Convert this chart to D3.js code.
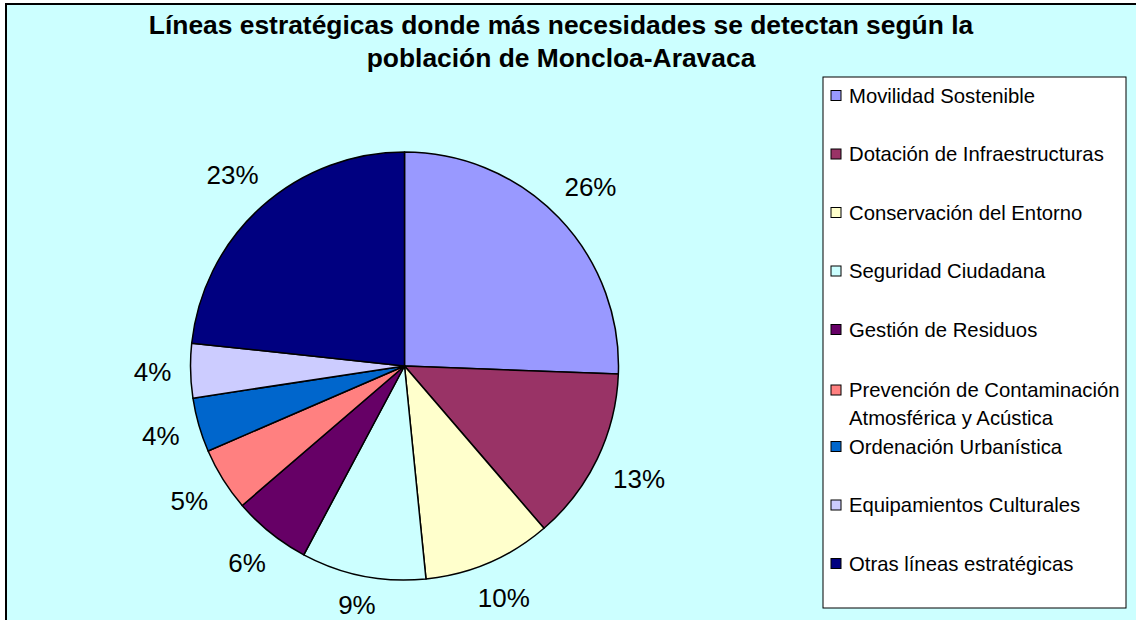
<!DOCTYPE html>
<html>
<head>
<meta charset="utf-8">
<script src="https://cdn.jsdelivr.net/npm/d3@7"></script>
<style>
  body { margin: 0; background: #fff; }
  svg { display: block; }
</style>
</head>
<body>
<div id="chart"></div>
<script>
const categories = [
    'Movilidad Sostenible',
    'Dotación de Infraestructuras',
    'Conservación del Entorno',
    'Seguridad Ciudadana',
    'Gestión de Residuos',
    'Prevención de Contaminación Atmosférica y Acústica',
    'Ordenación Urbanística',
    'Equipamientos Culturales',
    'Otras líneas estratégicas'
];
const values = [25.6, 13.1, 9.7, 9.4, 5.9, 4.8, 4.1, 4.1, 23.3];
const colors = ['#9999FF', '#993366', '#FFFFCC', '#CCFFFF', '#660066', '#FF8080', '#0066CC', '#CCCCFF', '#000080'];
const titleLines = ['Líneas estratégicas donde más necesidades se detectan según la', 'población de Moncloa-Aravaca'];

document.addEventListener("DOMContentLoaded", function() {
    const width = 1136, height = 620;
    const font = "'Liberation Sans', Arial, sans-serif";

    const svg = d3.select('#chart').append('svg')
        .attr('width', width)
        .attr('height', height)
        .attr('viewBox', `0 0 ${width} ${height}`);

    // chart area background + border
    svg.append('rect')
        .attr('x', 6).attr('y', 4)
        .attr('width', width + 10).attr('height', height + 10)
        .attr('fill', '#CCFFFF')
        .attr('stroke', '#000')
        .attr('stroke-width', 2);

    // title
    svg.selectAll('text.title')
        .data(titleLines)
        .enter().append('text')
        .attr('class', 'title')
        .attr('x', 561)
        .attr('y', (d, i) => 34 + i * 33)
        .attr('text-anchor', 'middle')
        .style('font-family', font)
        .style('font-weight', 'bold')
        .style('font-size', '26.4px')
        .text(d => d);

    // pie
    const cx = 404.5, cy = 366, radius = 214;
    const total = d3.sum(values);
    const pie = d3.pie().sort(null).value(d => d)(values);
    const arc = d3.arc().innerRadius(0).outerRadius(radius);

    const g = svg.append('g').attr('transform', `translate(${cx},${cy})`);

    g.selectAll('path.slice')
        .data(pie)
        .enter().append('path')
        .attr('class', 'slice')
        .attr('d', arc)
        .attr('fill', (d, i) => colors[i])
        .attr('stroke', '#000')
        .attr('stroke-width', 1.5)
        .attr('stroke-linejoin', 'round');

    // percentage labels, placed just outside the rim
    const labelGap = 233;
    const capH = 18.5;
    const maxBaseline = height - 6 - cy;
    g.selectAll('text.pct')
        .data(pie)
        .enter().append('text')
        .attr('class', 'pct')
        .attr('text-anchor', 'middle')
        .style('font-family', font)
        .style('font-size', '26px')
        .text(d => Math.round(d.value / total * 100) + '%')
        .each(function(d) {
            const a = (d.startAngle + d.endAngle) / 2;
            const w = this.getComputedTextLength();
            const dist = labelGap + (w / 2) * Math.abs(Math.sin(a)) + (capH / 2) * Math.abs(Math.cos(a));
            const x = dist * Math.sin(a);
            const y = -dist * Math.cos(a);
            d3.select(this).attr('x', x).attr('y', Math.min(y + capH / 2, maxBaseline));
        });

    // legend
    const lx = 823, ly = 77, lw = 303, lh = 531;
    const legend = svg.append('g');
    legend.append('rect')
        .attr('x', lx).attr('y', ly)
        .attr('width', lw).attr('height', lh)
        .attr('fill', '#fff')
        .attr('stroke', '#000')
        .attr('stroke-width', 1);

    const yPos = d3.scalePoint().domain(categories).range([95.5, 563.5]);

    const items = legend.selectAll('g.item')
        .data(categories)
        .enter().append('g')
        .attr('class', 'item');

    items.each(function(name, i) {
        const item = d3.select(this);
        const t = item.append('text')
            .attr('x', 849)
            .style('font-family', font)
            .style('font-size', '20.3px');
        // simple word wrap
        const words = name.split(' ');
        let lines = [], line = [];
        const probe = t.append('tspan');
        words.forEach(wd => {
            line.push(wd);
            probe.text(line.join(' '));
            if (probe.node().getComputedTextLength() > 280 && line.length > 1) {
                line.pop();
                lines.push(line.join(' '));
                line = [wd];
            }
        });
        lines.push(line.join(' '));
        probe.remove();

        const yc = yPos(name) + (lines.length > 1 ? 2 : 0);
        lines.forEach((ln, k) => {
            t.append('tspan')
                .attr('x', 849)
                .attr('y', yc + 7 + k * 28)
                .text(ln);
        });
        item.append('rect')
            .attr('x', 831)
            .attr('y', yc - 5)
            .attr('width', 10)
            .attr('height', 10)
            .attr('fill', colors[i])
            .attr('stroke', '#000')
            .attr('stroke-width', 1);
    });
});
</script>
</body>
</html>
